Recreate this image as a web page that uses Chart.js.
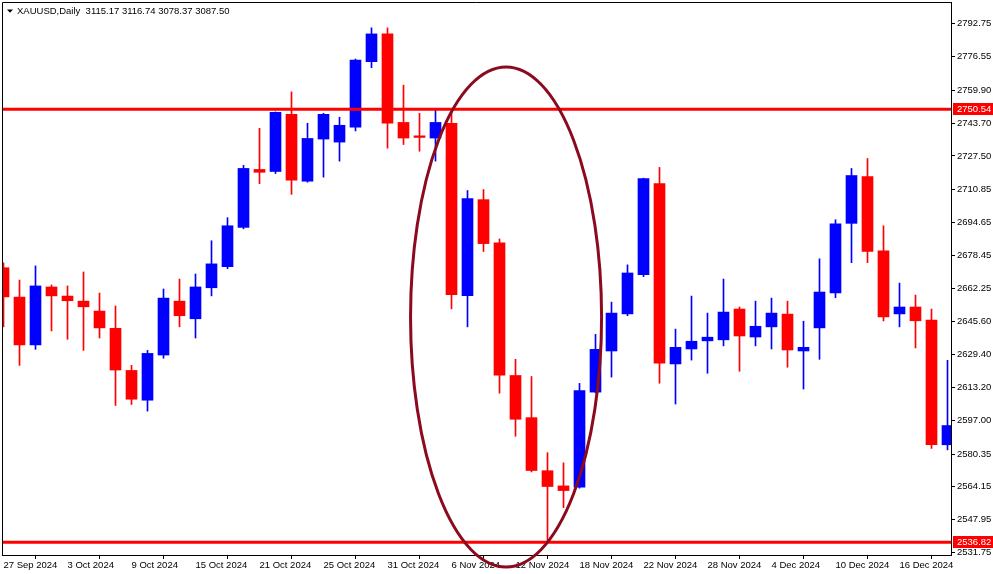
<!DOCTYPE html>
<html>
<head>
<meta charset="utf-8">
<script src="https://cdn.jsdelivr.net/npm/chart.js@4.4.1/dist/chart.umd.min.js"></script>
<style>
  html, body { margin: 0; padding: 0; background: #ffffff; }
  #wrap { width: 993px; height: 574px; position: relative; }
</style>
</head>
<body>
<div id="wrap"><canvas id="c"></canvas></div>
<script>
// ---- data ----
const dates = ["27 Sep","30 Sep","1 Oct","2 Oct","3 Oct","4 Oct","7 Oct","8 Oct","9 Oct","10 Oct",
  "11 Oct","14 Oct","15 Oct","16 Oct","17 Oct","18 Oct","21 Oct","22 Oct","23 Oct","24 Oct",
  "25 Oct","28 Oct","29 Oct","30 Oct","31 Oct","1 Nov","4 Nov","5 Nov","6 Nov","7 Nov",
  "8 Nov","11 Nov","12 Nov","13 Nov","14 Nov","15 Nov","18 Nov","19 Nov","20 Nov","21 Nov",
  "22 Nov","25 Nov","26 Nov","27 Nov","28 Nov","29 Nov","2 Dec","3 Dec","4 Dec","5 Dec",
  "6 Dec","9 Dec","10 Dec","11 Dec","12 Dec","13 Dec","16 Dec","17 Dec","18 Dec","19 Dec"];
const open = [2672.3,2657.8,2634.2,2662.8,2658.3,2655.8,2650.9,2642.4,2621.6,2606.9,
  2629.2,2655.8,2647.1,2662.4,2672.8,2692.2,2720.8,2719.8,2748.0,2715.0,
  2735.8,2734.3,2741.7,2774.0,2787.7,2744.0,2737.4,2736.3,2743.6,2658.5,
  2705.9,2684.6,2619.1,2598.3,2572.1,2564.6,2564.0,2610.9,2631.2,2649.5,
  2668.9,2713.8,2624.8,2632.2,2636.2,2636.7,2651.9,2638.1,2643.1,2649.4,
  2631.2,2642.6,2659.9,2694.2,2717.3,2680.6,2649.5,2652.9,2646.4,2584.9];
const high = [2674.7,2666.2,2673.2,2663.8,2663.3,2670.2,2659.8,2653.4,2624.1,2631.5,
  2661.8,2666.7,2669.2,2685.6,2697.0,2722.8,2741.1,2749.2,2759.1,2743.6,
  2748.5,2746.6,2775.3,2790.7,2790.7,2762.4,2748.5,2750.5,2749.0,2710.4,
  2710.9,2686.5,2627.1,2618.6,2581.0,2576.0,2615.2,2639.4,2655.3,2673.7,
  2716.5,2721.8,2642.0,2658.3,2649.9,2666.7,2652.9,2655.8,2657.3,2655.8,
  2645.9,2676.7,2696.0,2721.3,2726.2,2693.0,2664.7,2658.8,2651.9,2626.6];
const low = [2643.1,2624.1,2632.0,2641.1,2637.0,2631.5,2637.6,2604.3,2604.8,2601.5,
  2627.6,2643.1,2637.6,2658.4,2671.8,2691.5,2713.8,2718.8,2708.5,2714.5,
  2717.0,2724.9,2739.8,2771.0,2731.3,2733.1,2729.8,2724.9,2652.0,2643.1,
  2680.3,2610.4,2589.1,2571.5,2536.82,2553.9,2563.5,2610.5,2618.3,2648.6,
  2667.9,2615.3,2605.0,2626.7,2620.2,2633.7,2621.2,2633.7,2632.2,2623.2,
  2612.4,2627.1,2657.5,2674.8,2674.8,2646.0,2643.1,2632.7,2583.1,2582.4];
const close = [2657.9,2634.2,2663.3,2658.4,2656.0,2653.0,2642.6,2621.8,2607.4,2630.0,
  2657.3,2648.6,2662.8,2674.2,2693.0,2721.3,2719.4,2749.0,2715.5,2736.1,
  2748.0,2742.6,2774.8,2787.7,2743.7,2736.3,2736.6,2744.0,2659.0,2706.4,
  2684.2,2619.3,2597.5,2572.2,2564.3,2562.3,2611.7,2632.0,2649.9,2669.7,
  2716.3,2625.2,2633.0,2636.0,2638.0,2650.4,2638.6,2643.4,2649.9,2631.7,
  2633.0,2660.3,2694.0,2717.8,2680.3,2648.0,2652.9,2646.1,2584.9,2594.4];
const yTicks = [2792.75,2776.55,2759.90,2743.70,2727.50,2710.85,2694.65,2678.45,2662.25,
  2645.60,2629.40,2613.20,2597.00,2580.35,2564.15,2547.95,2531.75];
const xTickIndex = [0,4,8,12,16,20,24,28,32,36,40,44,48,52,56];
const xTickLabels = ["27 Sep 2024","3 Oct 2024","9 Oct 2024","15 Oct 2024","21 Oct 2024",
  "25 Oct 2024","31 Oct 2024","6 Nov 2024","12 Nov 2024","18 Nov 2024","22 Nov 2024",
  "28 Nov 2024","4 Dec 2024","10 Dec 2024","16 Dec 2024"];
const hLevels = [2750.54, 2536.82];
// ellipse object: centre (bar index, price), radii (bars, price)
const ellipseObj = [31.41, 2647.97, 5.97, 123.4];
const headerText = "XAUUSD,Daily  3115.17 3116.74 3078.37 3087.50";

// ---- styling ----
const UP = '#0000ff', DOWN = '#ff0000';
const FONT = "'Liberation Sans', Arial, sans-serif";
const FS = 9.5;
const colors = open.map((o, i) => close[i] >= o ? UP : DOWN);

const overlay = {
  id: 'overlay',
  afterDatasetsDraw(chart) {
    const ctx = chart.ctx, a = chart.chartArea;
    const xs = chart.scales.x, ys = chart.scales.y;
    ctx.save();
    ctx.strokeStyle = '#ff0000';
    ctx.lineWidth = 3;
    hLevels.forEach(v => {
      const y = ys.getPixelForValue(v);
      ctx.beginPath(); ctx.moveTo(a.left, y); ctx.lineTo(a.right, y); ctx.stroke();
    });
    const cx = xs.getPixelForValue(ellipseObj[0]);
    const cy = ys.getPixelForValue(ellipseObj[1]);
    const rx = Math.abs(xs.getPixelForValue(ellipseObj[0] + ellipseObj[2]) - cx);
    const ry = Math.abs(ys.getPixelForValue(ellipseObj[1] + ellipseObj[3]) - cy);
    ctx.strokeStyle = '#8b0a1e';
    ctx.lineWidth = 3;
    ctx.beginPath(); ctx.ellipse(cx, cy, rx, ry, 0, 0, Math.PI * 2); ctx.stroke();
    ctx.restore();
  },
  afterDraw(chart) {
    const ctx = chart.ctx, a = chart.chartArea, ys = chart.scales.y;
    ctx.save();
    ctx.strokeStyle = '#000'; ctx.lineWidth = 1;
    ctx.beginPath();
    ctx.moveTo(a.left + 0.5, a.bottom); ctx.lineTo(a.left + 0.5, a.top + 0.5);
    ctx.lineTo(a.right, a.top + 0.5);
    ctx.stroke();
    ctx.font = FS + "px " + FONT;
    ctx.textBaseline = 'middle';
    ctx.textAlign = 'left';
    hLevels.forEach(v => {
      const y = ys.getPixelForValue(v);
      ctx.fillStyle = '#ff0000';
      ctx.fillRect(a.right + 2, Math.round(y) - 6, chart.width - a.right - 2, 12);
      ctx.fillStyle = '#ffffff';
      ctx.fillText(v.toFixed(2), a.right + 6, y + 0.5);
    });
    ctx.fillStyle = '#000';
    ctx.beginPath(); ctx.moveTo(7, 9.5); ctx.lineTo(13, 9.5); ctx.lineTo(10, 12.8); ctx.closePath(); ctx.fill();
    ctx.fillText(headerText, 17, 11);
    ctx.restore();
  }
};

new Chart(document.getElementById('c'), {
  type: 'bar',
  data: {
    datasets: [
      {
        label: 'wick',
        data: dates.map((d, i) => ({ x: i, y: [low[i], high[i]] })),
        backgroundColor: colors,
        barThickness: 1,
        grouped: false,
        borderWidth: 0,
        order: 2
      },
      {
        label: 'body',
        data: dates.map((d, i) => ({ x: i, y: [open[i], close[i]] })),
        backgroundColor: colors,
        barThickness: 11,
        grouped: false,
        borderWidth: 0,
        order: 1
      }
    ]
  },
  options: {
    responsive: true,
    maintainAspectRatio: false,
    animation: false,
    events: [],
    layout: { padding: { left: 2, top: 2, right: 0, bottom: 0 } },
    plugins: { legend: { display: false }, tooltip: { enabled: false } },
    scales: {
      x: {
        type: 'linear',
        offset: false,
        min: -0.09375,
        max: 59.21875,
        afterBuildTicks: s => { s.ticks = xTickIndex.map(v => ({ value: v })); },
        afterFit: s => { s.height = 19; s.paddingLeft = 0; s.paddingRight = 0; },
        grid: { display: true, drawOnChartArea: false, drawTicks: true, tickLength: 4, color: '#000', tickWidth: 1 },
        border: { display: true, color: '#000', width: 1 },
        ticks: {
          autoSkip: false, maxRotation: 0, minRotation: 0, align: 'start', padding: 1.5,
          color: '#000', font: { family: FONT, size: FS, lineHeight: 1 },
          callback: v => { const k = xTickIndex.indexOf(v); return k >= 0 ? xTickLabels[k] : ''; }
        }
      },
      y: {
        type: 'linear',
        position: 'right',
        min: 2530.50,
        max: 2803.45,
        afterBuildTicks: s => { s.ticks = yTicks.map(v => ({ value: v })); },
        afterFit: s => { s.width = 42; s.paddingTop = 0; s.paddingBottom = 0; },
        grid: { display: true, drawOnChartArea: false, drawTicks: true, tickLength: 4, color: '#000', tickWidth: 1 },
        border: { display: true, color: '#000', width: 1 },
        ticks: {
          padding: 2, color: '#000', font: { family: FONT, size: FS, lineHeight: 1 },
          callback: v => Number(v).toFixed(2)
        }
      }
    }
  },
  plugins: [overlay]
});
</script>
</body>
</html>
